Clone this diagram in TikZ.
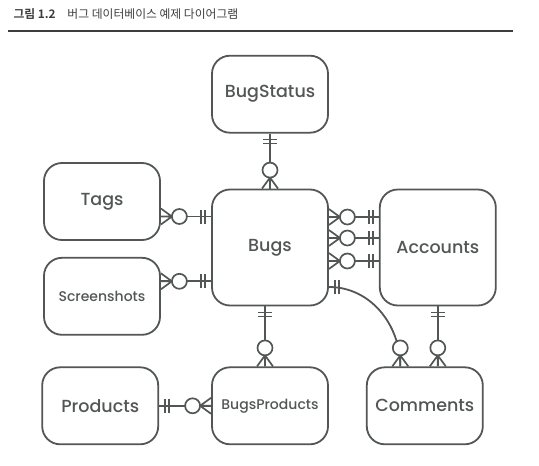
\documentclass[tikz,border=0pt]{standalone}
\usepackage{fontspec}
\setmainfont{Poppins Medium}
\newfontfamily\krfont{Noto Sans CJK KR}[BoldFont={Noto Sans CJK KR Bold}]
\usetikzlibrary{positioning}
\definecolor{Ink}{RGB}{82,86,84}
\definecolor{Rule}{RGB}{60,62,62}
\tikzset{
    % exactly one: two bars across the line
    onebar/.pic={
        \draw[draw=Ink, line width=1.7pt] (6,-7) -- (6,7) (10,-7) -- (10,7);
    },
    % zero or many: crow's foot and a ring
    zeromany/.pic={
        \draw[draw=Ink, line width=1.7pt] (0,-8) -- (11,0) (0,8) -- (11,0) (0,0) -- (11,0);
        \draw[draw=Ink, line width=1.7pt, fill=white] (18.5,0) circle (7.5);
    }
}

\begin{document}
\begin{tikzpicture}
    [
    x=1pt, y=1pt,
    node distance=50pt,
    entity/.style ={
        rectangle,
        draw=Ink,
        line width=1.8pt,
        rounded corners=18pt,
        minimum width=116pt,
        minimum height=77pt,
        inner sep=0pt,
        text=Ink,
        font=\fontsize{17.5}{21}\selectfont
    },
    tall/.style={
        minimum height=116pt
    },
    small/.style={
        font=\fontsize{14}{17}\selectfont
    },
    rel/.style={
        draw=Ink,
        line width=1.8pt
    }
    ]
    \useasboundingbox (0,0) rectangle (539,-466);

    \node (title)[anchor=base west, text=Rule, font=\krfont\fontsize{11.8}{13}\selectfont] at (10,-18)
        {\textbf{그림 1.2}\hspace{1em}버그 데이터베이스 예제 다이어그램};
    \draw[draw=Rule, line width=1.5pt] (8,-31) -- (513,-31);

    \node (bugs)[entity,tall] at (270,-247.5) {Bugs};
    \node (accounts)[entity,tall,right=50pt of bugs] {Accounts};
    \node (bugstatus)[entity,above=55pt of bugs] {BugStatus};
    \node (bugsproducts)[entity,small,below=60pt of bugs] {BugsProducts};
    \node (products)[entity,left=52pt of bugsproducts] {Products};
    \node (comments)[entity,right=37pt of bugsproducts] {Comments};
    \node (tags)[entity] at (102,-201.5) {Tags};
    \node (screenshots)[entity,small,below=16pt of tags] {Screenshots};

    \coordinate (tagsend) at ([yshift=-15pt]tags.east);
    \coordinate (shotsend) at ([yshift=15pt]screenshots.east);
    \coordinate (acc1) at ([yshift=30.5pt]bugs.east);
    \coordinate (acc2) at ([yshift=9.5pt]bugs.east);
    \coordinate (acc3) at ([yshift=-13.5pt]bugs.east);
    \coordinate (bpend) at ([xshift=-5pt]bugs.south);
    \coordinate (cmstart) at ([yshift=-39.5pt]bugs.east);
    \coordinate (cmend) at ([xshift=-24.5pt]comments.north);

    \draw[rel] (tagsend) -- (tagsend -| bugs.west);
    \draw[rel] (shotsend) -- (shotsend -| bugs.west);
    \draw[rel] (acc1) -- (acc1 -| accounts.west);
    \draw[rel] (acc2) -- (acc2 -| accounts.west);
    \draw[rel] (acc3) -- (acc3 -| accounts.west);
    \draw[rel] (bugstatus.south) -- (bugstatus.south |- bugs.north);
    \draw[rel] (bpend) -- (bpend |- bugsproducts.north);
    \draw[rel] (products.east) -- (bugsproducts.west);
    \draw[rel] (accounts.south) -- (accounts.south |- comments.north);
    \draw[rel] (cmstart) to[out=0,in=90] (cmend);

    \pic at (tagsend) {zeromany};
    \pic[rotate=180] at (tagsend -| bugs.west) {onebar};
    \pic at (shotsend) {zeromany};
    \pic[rotate=180] at (shotsend -| bugs.west) {onebar};

    \pic at (acc1) {zeromany};
    \pic[rotate=180] at (acc1 -| accounts.west) {onebar};
    \pic at (acc2) {zeromany};
    \pic[rotate=180] at (acc2 -| accounts.west) {onebar};
    \pic at (acc3) {zeromany};
    \pic[rotate=180] at (acc3 -| accounts.west) {onebar};

    \pic[rotate=-90] at (bugstatus.south) {onebar};
    \pic[rotate=90] at (bugstatus.south |- bugs.north) {zeromany};

    \pic[rotate=-90] at (bpend) {onebar};
    \pic[rotate=90] at (bpend |- bugsproducts.north) {zeromany};

    \pic at (products.east) {onebar};
    \pic[rotate=180] at (bugsproducts.west) {zeromany};

    \pic[rotate=-90] at (accounts.south) {onebar};
    \pic[rotate=90] at (accounts.south |- comments.north) {zeromany};

    \pic at (cmstart) {onebar};
    \pic[rotate=90] at (cmend) {zeromany};
\end{tikzpicture}
\end{document}
